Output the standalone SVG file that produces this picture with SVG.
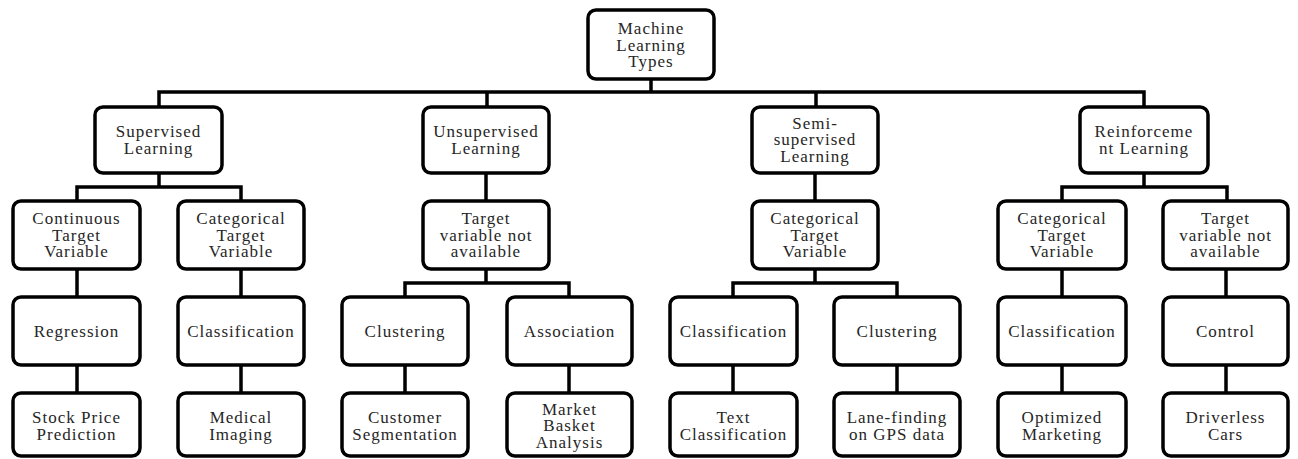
<svg xmlns="http://www.w3.org/2000/svg" width="1298" height="459" viewBox="0 0 1298 459">
  <style>
    .box { fill: #ffffff; stroke: #000000; stroke-width: 3.5; }
    .lbl { font-family: "Liberation Serif", "Times New Roman", serif; font-size: 17px; letter-spacing: 1px; fill: #262626; text-anchor: middle; }
    .conn { fill: none; stroke: #000000; stroke-width: 3.5; stroke-linejoin: miter; stroke-linecap: square; }
  </style>

  <!-- tree connectors -->
  <g id="connectors" class="conn">
    <path d="M651,79 V92 M159,107 V92 H1144 V107 M487,92 V107 M816,92 V107"/>
    <path d="M159,173 V187 M77,201 V187 H241 V201"/>
    <path d="M486,173 V201"/>
    <path d="M815,173 V201"/>
    <path d="M1144,173 V187 M1062,201 V187 H1227 V201"/>
    <path d="M77,269 V297 M241,269 V297"/>
    <path d="M486,269 V283 M405,297 V283 H569 V297"/>
    <path d="M815,269 V283 M733,297 V283 H897 V297"/>
    <path d="M1062,269 V297 M1226,269 V297"/>
    <path d="M77,365 V393 M241,365 V393 M405,365 V393 M569,365 V393 M733,365 V393 M897,365 V393 M1062,365 V393 M1226,365 V393"/>
  </g>

  <!-- root -->
  <g id="ml-types">
    <rect class="box" x="588" y="10" width="126" height="69" rx="8"/>
    <text class="lbl" x="651" y="34">Machine</text>
    <text class="lbl" x="651" y="50.5">Learning</text>
    <text class="lbl" x="651" y="67">Types</text>
  </g>

  <!-- learning paradigms -->
  <g id="supervised">
    <rect class="box" x="95" y="107" width="127" height="66" rx="8"/>
    <text class="lbl" x="158.5" y="137">Supervised</text>
    <text class="lbl" x="158.5" y="153.5">Learning</text>
  </g>
  <g id="unsupervised">
    <rect class="box" x="423" y="107" width="126" height="66" rx="8"/>
    <text class="lbl" x="486" y="137">Unsupervised</text>
    <text class="lbl" x="486" y="153.5">Learning</text>
  </g>
  <g id="semi-supervised">
    <rect class="box" x="752" y="107" width="126" height="66" rx="8"/>
    <text class="lbl" x="815" y="128.5">Semi-</text>
    <text class="lbl" x="815" y="145">supervised</text>
    <text class="lbl" x="815" y="161.5">Learning</text>
  </g>
  <g id="reinforcement">
    <rect class="box" x="1080" y="107" width="128" height="66" rx="8"/>
    <text class="lbl" x="1144" y="137">Reinforceme</text>
    <text class="lbl" x="1144" y="153.5">nt Learning</text>
  </g>

  <!-- target variable kinds -->
  <g id="sup-continuous">
    <rect class="box" x="13" y="201" width="127" height="68" rx="8"/>
    <text class="lbl" x="76.5" y="224">Continuous</text>
    <text class="lbl" x="76.5" y="240.5">Target</text>
    <text class="lbl" x="76.5" y="257">Variable</text>
  </g>
  <g id="sup-categorical">
    <rect class="box" x="178" y="201" width="126" height="68" rx="8"/>
    <text class="lbl" x="241" y="224">Categorical</text>
    <text class="lbl" x="241" y="240.5">Target</text>
    <text class="lbl" x="241" y="257">Variable</text>
  </g>
  <g id="unsup-no-target">
    <rect class="box" x="423" y="201" width="126" height="68" rx="8"/>
    <text class="lbl" x="486" y="224">Target</text>
    <text class="lbl" x="486" y="240.5">variable not</text>
    <text class="lbl" x="486" y="257">available</text>
  </g>
  <g id="semi-categorical">
    <rect class="box" x="752" y="201" width="126" height="68" rx="8"/>
    <text class="lbl" x="815" y="224">Categorical</text>
    <text class="lbl" x="815" y="240.5">Target</text>
    <text class="lbl" x="815" y="257">Variable</text>
  </g>
  <g id="reinf-categorical">
    <rect class="box" x="998" y="201" width="128" height="68" rx="8"/>
    <text class="lbl" x="1062" y="224">Categorical</text>
    <text class="lbl" x="1062" y="240.5">Target</text>
    <text class="lbl" x="1062" y="257">Variable</text>
  </g>
  <g id="reinf-no-target">
    <rect class="box" x="1163" y="201" width="125" height="68" rx="8"/>
    <text class="lbl" x="1225.5" y="224">Target</text>
    <text class="lbl" x="1225.5" y="240.5">variable not</text>
    <text class="lbl" x="1225.5" y="257">available</text>
  </g>

  <!-- tasks -->
  <g id="regression">
    <rect class="box" x="13" y="297" width="127" height="68" rx="8"/>
    <text class="lbl" x="76.5" y="336.5">Regression</text>
  </g>
  <g id="sup-classification">
    <rect class="box" x="178" y="297" width="126" height="68" rx="8"/>
    <text class="lbl" x="241" y="336.5">Classification</text>
  </g>
  <g id="unsup-clustering">
    <rect class="box" x="342" y="297" width="126" height="68" rx="8"/>
    <text class="lbl" x="405" y="336.5">Clustering</text>
  </g>
  <g id="association">
    <rect class="box" x="507" y="297" width="125" height="68" rx="8"/>
    <text class="lbl" x="569.5" y="336.5">Association</text>
  </g>
  <g id="semi-classification">
    <rect class="box" x="670" y="297" width="127" height="68" rx="8"/>
    <text class="lbl" x="733.5" y="336.5">Classification</text>
  </g>
  <g id="semi-clustering">
    <rect class="box" x="834" y="297" width="126" height="68" rx="8"/>
    <text class="lbl" x="897" y="336.5">Clustering</text>
  </g>
  <g id="reinf-classification">
    <rect class="box" x="998" y="297" width="128" height="68" rx="8"/>
    <text class="lbl" x="1062" y="336.5">Classification</text>
  </g>
  <g id="control">
    <rect class="box" x="1163" y="297" width="125" height="68" rx="8"/>
    <text class="lbl" x="1225.5" y="336.5">Control</text>
  </g>

  <!-- applications -->
  <g id="stock-price">
    <rect class="box" x="13" y="393" width="127" height="63" rx="8"/>
    <text class="lbl" x="76.5" y="423">Stock Price</text>
    <text class="lbl" x="76.5" y="439.5">Prediction</text>
  </g>
  <g id="medical-imaging">
    <rect class="box" x="178" y="393" width="126" height="63" rx="8"/>
    <text class="lbl" x="241" y="423">Medical</text>
    <text class="lbl" x="241" y="439.5">Imaging</text>
  </g>
  <g id="customer-segmentation">
    <rect class="box" x="342" y="393" width="126" height="63" rx="8"/>
    <text class="lbl" x="405" y="423">Customer</text>
    <text class="lbl" x="405" y="439.5">Segmentation</text>
  </g>
  <g id="market-basket">
    <rect class="box" x="507" y="393" width="125" height="63" rx="8"/>
    <text class="lbl" x="569.5" y="414.5">Market</text>
    <text class="lbl" x="569.5" y="431">Basket</text>
    <text class="lbl" x="569.5" y="447.5">Analysis</text>
  </g>
  <g id="text-classification">
    <rect class="box" x="670" y="393" width="127" height="63" rx="8"/>
    <text class="lbl" x="733.5" y="423">Text</text>
    <text class="lbl" x="733.5" y="439.5">Classification</text>
  </g>
  <g id="lane-finding">
    <rect class="box" x="834" y="393" width="126" height="63" rx="8"/>
    <text class="lbl" x="897" y="423">Lane-finding</text>
    <text class="lbl" x="897" y="439.5">on GPS data</text>
  </g>
  <g id="optimized-marketing">
    <rect class="box" x="998" y="393" width="128" height="63" rx="8"/>
    <text class="lbl" x="1062" y="423">Optimized</text>
    <text class="lbl" x="1062" y="439.5">Marketing</text>
  </g>
  <g id="driverless-cars">
    <rect class="box" x="1163" y="393" width="125" height="63" rx="8"/>
    <text class="lbl" x="1225.5" y="423">Driverless</text>
    <text class="lbl" x="1225.5" y="439.5">Cars</text>
  </g>
</svg>
